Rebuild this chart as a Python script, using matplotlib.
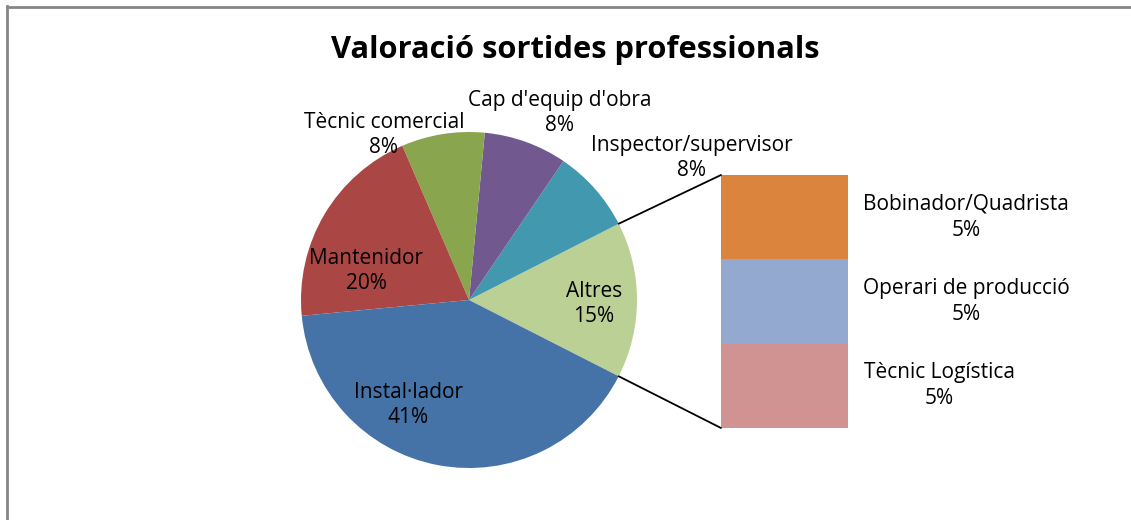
import matplotlib.pyplot as plt
import numpy as np
from matplotlib.patches import ConnectionPatch

plt.rcParams['font.family'] = ['Open Sans', 'DejaVu Sans']

# Data (percentages)
pie_labels = ['Altres', 'Inspector/supervisor', "Cap d'equip d'obra",
              'Tècnic comercial', 'Mantenidor', 'Instal·lador']
pie_values = [15, 8, 8, 8, 20, 41]
pie_colors = ['#BBD095', '#4198AF', '#71588F', '#89A54E', '#AA4643', '#4572A7']

bar_labels = ['Bobinador/Quadrista', 'Operari de producció', 'Tècnic Logística']
bar_values = [5, 5, 5]
bar_colors = ['#DB843D', '#93A9CF', '#D19392']

W, H = 1131, 520
fig = plt.figure(figsize=(W / 100, H / 100), dpi=100)

# chart area border (cut at right/bottom)
fig.add_artist(plt.Line2D([7 / W, 7 / W], [0, 1 - 6 / H], color='#868686', lw=2))
fig.add_artist(plt.Line2D([7 / W, 1], [1 - 7 / H, 1 - 7 / H], color='#868686', lw=2))

fig.text(575 / W, 1 - 50 / H, 'Valoració sortides professionals',
         ha='center', va='center', fontsize=22.2, fontweight='bold')

# pie axes in pixel coords (y up)
ax = fig.add_axes([0, 0, 1, 1])
cx, cy, r = 469, H - 300, 168
total = sum(pie_values)
start = -180 * pie_values[0] / total
ax.pie(pie_values, colors=pie_colors, startangle=start,
       center=(cx, cy), radius=r, frame=True)
ax.set_xlim(0, W)
ax.set_ylim(0, H)
ax.set_aspect('equal')
ax.axis('off')

fs = 15
label_pos = [(594, 304), (692, 158), (560, 113), (384, 135), (366, 271), (408, 405)]
for lab, v, (x, y) in zip(pie_labels, pie_values, label_pos):
    ax.text(x, H - y, f'{lab}\n{v}%', ha='center', va='center', fontsize=fs,
            linespacing=1.3)

# bar of the "Altres" group
bx = fig.add_axes([721 / W, 1 - 428 / H, 127 / W, 253 / H])
bottom = 0
for v, col in zip(bar_values[::-1], bar_colors[::-1]):
    bx.bar([0], [v], bottom=bottom, width=1, color=col)
    bottom += v
bx.set_xlim(-0.5, 0.5)
bx.set_ylim(0, sum(bar_values))
bx.axis('off')

bar_label_x = [966, 966, 939]
acc = sum(bar_values)
for lab, v, x in zip(bar_labels, bar_values, bar_label_x):
    mid = acc - v / 2
    acc -= v
    ax.text(x, H - 428 + 253 * mid / sum(bar_values), f'{lab}\n{v}%',
            ha='center', va='center', fontsize=fs, linespacing=1.3)

# connector lines
a1 = np.deg2rad(start + 360 * pie_values[0] / total)
a0 = np.deg2rad(start)
for ang, yb in [(a1, sum(bar_values)), (a0, 0)]:
    con = ConnectionPatch(xyA=(cx + r * np.cos(ang), cy + r * np.sin(ang)), coordsA=ax.transData,
                          xyB=(-0.5, yb), coordsB=bx.transData, color='black', lw=1.3)
    fig.add_artist(con)

plt.savefig('out.png', dpi=100)
